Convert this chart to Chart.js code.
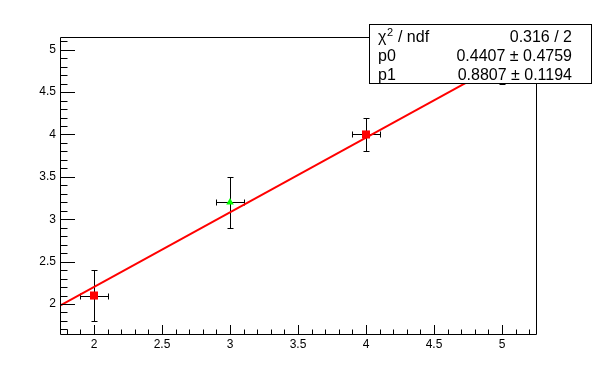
<!DOCTYPE html>
<html>
<head>
<meta charset="utf-8">
<script src="https://cdn.jsdelivr.net/npm/chart.js@4/dist/chart.umd.min.js"></script>
<style>
  html, body { margin: 0; padding: 0; background: #fff; }
  canvas { display: block; }
</style>
</head>
<body>
<canvas id="c" width="596" height="372"></canvas>
<script>
// graph points (x, y) with errors
const xVals = [2, 3, 4, 5];
const yVals = [2.1, 3.2, 4.0, 5.0];
const exVals = [0.1, 0.1, 0.1, 0.1];
const eyVals = [0.3, 0.3, 0.2, 0.4];

// axis labels
const xTicks = [2, 2.5, 3, 3.5, 4, 4.5, 5];
const yTicks = [2, 2.5, 3, 3.5, 4, 4.5, 5];
const xRange = [1.75, 5.25];
const yRange = [1.646, 5.15];

// fit result (pol1)
const fitNames = ["p0", "p1"];
const fitValues = [0.4407, 0.8807];
const fitErrors = [0.4759, 0.1194];
const chi2 = "0.316";
const ndf = "2";

const FONT = "'Liberation Sans', Arial, Helvetica, sans-serif";

const fitLine = xRange.map(x => ({ x: x, y: fitValues[0] + fitValues[1] * x }));
const points = xVals.map((x, i) => ({ x: x, y: yVals[i] }));

const rootAxes = {
    id: "rootAxes",
    beforeDatasetsDraw(chart) {
        // error bars
        const ctx = chart.ctx;
        const xs = chart.scales.x, ys = chart.scales.y;
        const a = chart.chartArea;
        ctx.save();
        ctx.beginPath();
        ctx.rect(a.left, a.top, a.right - a.left, a.bottom - a.top);
        ctx.clip();
        ctx.strokeStyle = "#000";
        ctx.lineWidth = 1;
        ctx.beginPath();
        for (let i = 0; i < xVals.length; i++) {
            const px = Math.round(xs.getPixelForValue(xVals[i])) + 0.5;
            const py = Math.round(ys.getPixelForValue(yVals[i])) + 0.5;
            const x0 = Math.round(xs.getPixelForValue(xVals[i] - exVals[i])) + 0.5;
            const x1 = Math.round(xs.getPixelForValue(xVals[i] + exVals[i])) + 0.5;
            const y0 = Math.round(ys.getPixelForValue(yVals[i] - eyVals[i])) + 0.5;
            const y1 = Math.round(ys.getPixelForValue(yVals[i] + eyVals[i])) + 0.5;
            ctx.moveTo(x0, py); ctx.lineTo(x1, py);
            ctx.moveTo(px, y0); ctx.lineTo(px, y1);
            ctx.moveTo(x0, py - 3); ctx.lineTo(x0, py + 3);
            ctx.moveTo(x1, py - 3); ctx.lineTo(x1, py + 3);
            ctx.moveTo(px - 3, y0); ctx.lineTo(px + 3, y0);
            ctx.moveTo(px - 3, y1); ctx.lineTo(px + 3, y1);
        }
        ctx.stroke();
        ctx.restore();
    },
    afterDatasetsDraw(chart) {
        // frame and inside ticks
        const ctx = chart.ctx;
        const xs = chart.scales.x, ys = chart.scales.y;
        const a = chart.chartArea;
        ctx.save();
        ctx.strokeStyle = "#000";
        ctx.lineWidth = 1;
        ctx.beginPath();
        ctx.rect(a.left + 0.5, a.top + 0.5, a.right - a.left, a.bottom - a.top);
        for (let k = Math.ceil(xs.min * 10); k <= Math.floor(xs.max * 10); k++) {
            const px = Math.round(xs.getPixelForValue(k / 10)) + 0.5;
            const len = k % 5 === 0 ? 9 : 4.5;
            ctx.moveTo(px, a.bottom);
            ctx.lineTo(px, a.bottom - len);
        }
        for (let k = Math.ceil(ys.min * 10); k <= Math.floor(ys.max * 10); k++) {
            const py = Math.round(ys.getPixelForValue(k / 10)) + 0.5;
            const len = k % 5 === 0 ? 15 : 7.5;
            ctx.moveTo(a.left, py);
            ctx.lineTo(a.left + len, py);
        }
        ctx.stroke();
        ctx.restore();
    },
    afterDraw(chart) {
        // stats box
        const ctx = chart.ctx;
        const bx = 369.5, by = 24.5, bw = 222, bh = 59;
        ctx.save();
        ctx.fillStyle = "#fff";
        ctx.fillRect(bx, by, bw, bh);
        ctx.strokeStyle = "#000";
        ctx.lineWidth = 1;
        ctx.strokeRect(bx, by, bw, bh);
        ctx.fillStyle = "#000";
        ctx.textBaseline = "alphabetic";
        const left = 378, right = 572;
        const rows = [41.5, 60.5, 79.5];
        ctx.font = "16px " + FONT;
        ctx.textAlign = "left";
        ctx.fillText("\u03C7", left, rows[0]);
        let w = ctx.measureText("\u03C7").width;
        ctx.font = "11px " + FONT;
        ctx.fillText("2", left + w + 0.5, rows[0] - 6);
        const w2 = ctx.measureText("2").width;
        ctx.font = "16px " + FONT;
        ctx.fillText(" / ndf", left + w + w2 + 1, rows[0]);
        ctx.textAlign = "right";
        ctx.fillText(chi2 + " / " + ndf, right, rows[0]);
        for (let i = 0; i < fitNames.length; i++) {
            ctx.textAlign = "left";
            ctx.fillText(fitNames[i], left, rows[i + 1]);
            ctx.textAlign = "right";
            ctx.fillText(fitValues[i].toFixed(4) + " \u00B1 " + fitErrors[i].toFixed(4), right, rows[i + 1]);
        }
        ctx.restore();
    }
};

const ctx = document.getElementById("c");

new Chart(ctx, {
    type: "scatter",
    data: {
        datasets: [
            {
                type: "line",
                data: fitLine,
                borderColor: "#ff0000",
                borderWidth: 2,
                pointRadius: 0,
                fill: false,
                showLine: true,
                tension: 0,
            },
            {
                data: points,
                pointStyle: ["rect", "triangle", "rect", "rect"],
                pointRadius: [5.7, 4.4, 5.7, 5.7],
                pointBackgroundColor: ["#ff0000", "#00ff00", "#ff0000", "#ff0000"],
                pointBorderColor: ["#ff0000", "#00ff00", "#ff0000", "#ff0000"],
                pointBorderWidth: 0,
                showLine: false,
            },
        ],
    },
    options: {
        responsive: false,
        animation: false,
        events: [],
        layout: { padding: { top: 37, right: 60, left: 0, bottom: 0 } },
        plugins: { legend: { display: false }, tooltip: { enabled: false } },
        scales: {
            x: {
                type: "linear",
                min: xRange[0],
                max: xRange[1],
                afterBuildTicks: (scale) => { scale.ticks = xTicks.map(v => ({ value: v })); },
                afterFit: (scale) => { scale.height = 38; },
                grid: { display: false, drawTicks: false },
                border: { display: false },
                ticks: {
                    padding: 3,
                    maxRotation: 0,
                    autoSkip: false,
                    color: "#000",
                    font: { family: FONT, size: 12 },
                    callback: (v) => String(v),
                },
            },
            y: {
                type: "linear",
                min: yRange[0],
                max: yRange[1],
                afterBuildTicks: (scale) => { scale.ticks = yTicks.map(v => ({ value: v })); },
                afterFit: (scale) => { scale.width = 60; },
                grid: { display: false, drawTicks: false },
                border: { display: false },
                ticks: {
                    padding: 4,
                    autoSkip: false,
                    color: "#000",
                    font: { family: FONT, size: 12 },
                    callback: (v) => String(v),
                },
            },
        },
    },
    plugins: [rootAxes],
});
</script>
</body>
</html>
